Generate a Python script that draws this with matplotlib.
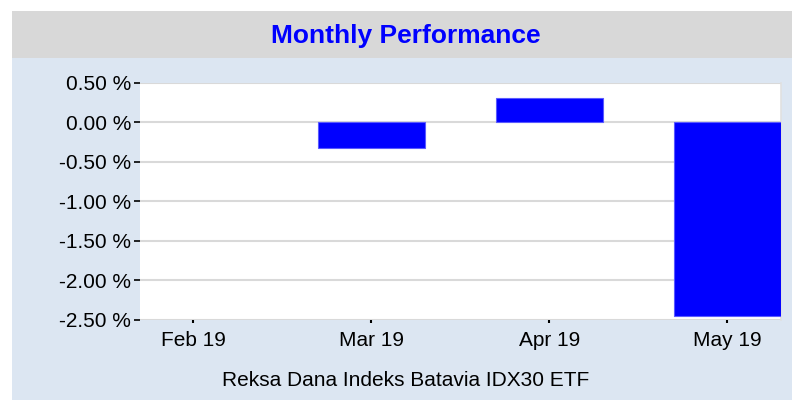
import matplotlib
matplotlib.use("Agg")
import matplotlib.pyplot as plt
from matplotlib.patches import Rectangle
from matplotlib.ticker import FuncFormatter

months = ["Feb 19", "Mar 19", "Apr 19", "May 19"]
returns = [0.0, -0.33, 0.31, -2.46]
yticks = [0.5, 0.0, -0.5, -1.0, -1.5, -2.0, -2.5]
title = "Monthly Performance"
fund_name = "Reksa Dana Indeks Batavia IDX30 ETF"

plt.rcParams['font.family'] = ['Liberation Sans', 'DejaVu Sans']

W, H = 792, 400
fig = plt.figure(figsize=(W / 100, H / 100), dpi=100)
fig.patch.set_facecolor('white')

# background panels
fig.patches.append(Rectangle((12 / W, 0), 1 - 12 / W, 1 - 58 / H, transform=fig.transFigure,
                             facecolor='#dce6f2', edgecolor='none', zorder=-10))
fig.patches.append(Rectangle((12 / W, 1 - 58 / H), 1 - 12 / W, 47 / H, transform=fig.transFigure,
                             facecolor='#d8d8d8', edgecolor='none', zorder=-10))

ax = fig.add_axes([140 / W, 1 - 319.5 / H, (780.5 - 140) / W, (319.5 - 83) / H])
ax.set_zorder(1)
ax.set_facecolor('white')
x = list(range(len(months)))
edge_w = [0.8 if v != 0 else 0 for v in returns]
ax.bar(x, returns, width=0.6, color='#0000ff', edgecolor='#5a5aff', linewidth=edge_w, zorder=3)
ax.set_xlim(-0.3, 3.3)
ax.set_ylim(-2.5, 0.5)
ax.set_yticks(yticks)
ax.yaxis.set_major_formatter(FuncFormatter(lambda v, p: f"{v:.2f} %"))
ax.set_xticks(x)
ax.set_xticklabels(months)
ax.grid(axis='y', color='#d9d9d9', linewidth=1.5, zorder=0)
ax.set_axisbelow(True)
for s in ['left', 'top', 'bottom']:
    ax.spines[s].set_visible(False)
ax.spines['right'].set_color('#e0e0e0')
ax.spines['right'].set_linewidth(1.2)
ax.tick_params(axis='y', length=4, width=1.2, color='black', pad=2.5, labelsize=15, labelcolor='black')
ax.tick_params(axis='x', length=2.5, width=1.5, color='black', pad=6, labelsize=15, labelcolor='black')

fig.text(406 / W, 1 - 36.5 / H, title, ha='center', va='center', fontsize=19,
         fontweight='bold', color='#0000ff')
fig.text(406 / W, 1 - 380.5 / H, fund_name, ha='center', va='center', fontsize=15, color='black')

fig.savefig('out.png', dpi=100, facecolor=fig.get_facecolor())
